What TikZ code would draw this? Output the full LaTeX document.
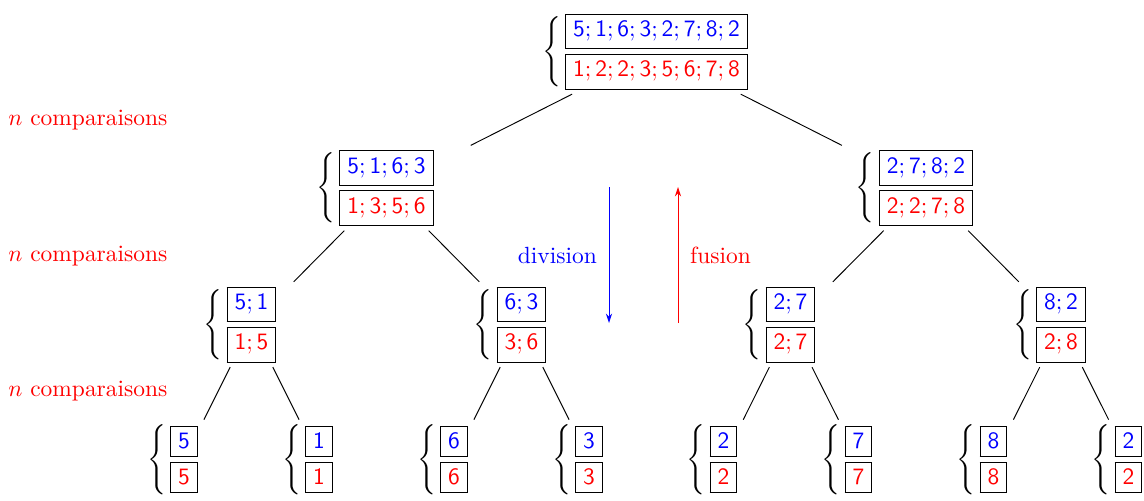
\documentclass[tikz,border=0pt]{standalone}
\usepackage{tikz}
\usetikzlibrary{arrows.meta}

% deux cases : suite avant (bleu) et apres (rouge) le tri
\newcommand{\deuxcases}[2]{\begin{array}{@{}l@{}}
  \fbox{\color{blue}$\mathsf{#1}$}\\
  \noalign{\vskip 1.8pt}
  \fbox{\color{red}$\mathsf{#2}$}
\end{array}}
% l'accolade deborde a gauche, le noeud se limite aux cases
\newcommand{\paire}[2]{$\llap{$\left\{\vphantom{\deuxcases{#1}{#2}}\right.\kern0.6pt$}\deuxcases{#1}{#2}$}

\begin{document}
\begin{tikzpicture}[
        x=0.015cm, y=-0.015cm,
        bloc/.style={inner sep=0pt, outer sep=2pt, minimum width=2.6cm},
        arete/.style={draw=black},
        fleche/.style={-{Stealth[length=4pt,width=2.6pt]}},
        legende/.style={anchor=west, text=red, inner sep=0pt}
        ]
        \useasboundingbox (0,0) rectangle (1144,500);

        % racine et premier niveau
        \node[bloc] (racine) at (656.5,51.5) {\paire{5; 1; 6; 3; 2; 7; 8; 2}{1; 2; 2; 3; 5; 6; 7; 8}};
        \node[bloc] (g) at (386.5,188) {\paire{5; 1; 6; 3}{1; 3; 5; 6}};
        \node[bloc] (d) at (926,188) {\paire{2; 7; 8; 2}{2; 2; 7; 8}};

        % deuxieme niveau
        \node[bloc] (gg) at (251.5,324.5) {\paire{5; 1}{1; 5}};
        \node[bloc] (gd) at (521.5,324.5) {\paire{6; 3}{3; 6}};
        \node[bloc] (dg) at (790.5,324.5) {\paire{2; 7}{2; 7}};
        \node[bloc] (dd) at (1061,324.5) {\paire{8; 2}{2; 8}};

        % feuilles
        \node[bloc] (f1) at (184,459.5) {\paire{5}{5}};
        \node[bloc] (f2) at (319,459.5) {\paire{1}{1}};
        \node[bloc] (f3) at (454,459.5) {\paire{6}{6}};
        \node[bloc] (f4) at (589,459.5) {\paire{3}{3}};
        \node[bloc] (f5) at (723.5,459.5) {\paire{2}{2}};
        \node[bloc] (f6) at (858.5,459.5) {\paire{7}{7}};
        \node[bloc] (f7) at (993.5,459.5) {\paire{8}{8}};
        \node[bloc] (f8) at (1128.5,459.5) {\paire{2}{2}};

        % aretes
        \draw[arete] (racine) -- (g);
        \draw[arete] (racine) -- (d);
        \draw[arete] (g) -- (gg);
        \draw[arete] (g) -- (gd);
        \draw[arete] (d) -- (dg);
        \draw[arete] (d) -- (dd);
        \draw[arete] (gg) -- (f1);
        \draw[arete] (gg) -- (f2);
        \draw[arete] (gd) -- (f3);
        \draw[arete] (gd) -- (f4);
        \draw[arete] (dg) -- (f5);
        \draw[arete] (dg) -- (f6);
        \draw[arete] (dd) -- (f7);
        \draw[arete] (dd) -- (f8);

        % sens de parcours
        \coordinate (divhaut) at (609,187);
        \coordinate (divbas) at (609,323);
        \coordinate (fushaut) at (678,187);
        \coordinate (fusbas) at (678,323);
        \draw[fleche, blue] (divhaut) -- node[left, inner sep=5pt] {division} (divbas);
        \draw[fleche, red] (fusbas) -- node[right, inner sep=5pt] {fusion} (fushaut);

        % cout de chaque niveau
        \node[legende] (c1) at (8,120) {$n$ comparaisons};
        \node[legende] (c2) at (8,256) {$n$ comparaisons};
        \node[legende] (c3) at (8,391) {$n$ comparaisons};
\end{tikzpicture}
\end{document}
